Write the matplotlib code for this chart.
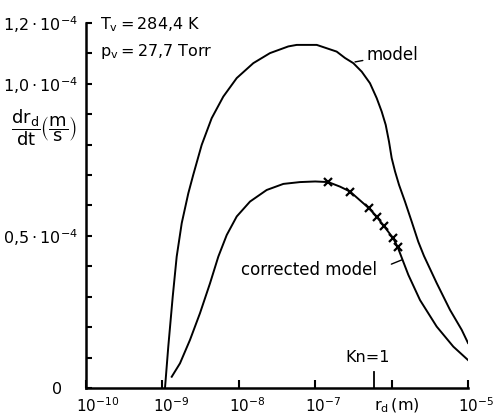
import matplotlib
matplotlib.use("Agg")
import matplotlib.pyplot as plt

# data (x as log10 of r_d in m, y in units of 1e-4 m/s)
model_logr = [-8.966, -8.923, -8.865, -8.813, -8.747, -8.661, -8.596, -8.486, -8.355,
              -8.203, -8.027, -7.810, -7.592, -7.352, -7.242, -6.980, -6.719, -6.610,
              -6.501, -6.391, -6.283, -6.195, -6.130, -6.077, -6.034, -5.999, -5.955,
              -5.903, -5.825, -5.737, -5.651, -5.576, -5.410, -5.236, -5.082, -5.0]
model_rate = [0.0, 0.136, 0.300, 0.432, 0.542, 0.640, 0.701, 0.799, 0.887,
              0.958, 1.019, 1.068, 1.101, 1.123, 1.128, 1.128, 1.106, 1.085,
              1.068, 1.040, 1.002, 0.953, 0.909, 0.865, 0.810, 0.756, 0.712,
              0.668, 0.613, 0.547, 0.481, 0.434, 0.345, 0.257, 0.191, 0.148]

corr_logr = [-8.878, -8.770, -8.639, -8.508, -8.377, -8.268, -8.158, -8.027, -7.853,
             -7.635, -7.417, -7.199, -7.0, -6.829, -6.675, -6.545, -6.296, -6.195,
             -6.096, -5.978, -5.920, -5.847, -5.781, -5.628, -5.410, -5.192, -5.0]
corr_rate = [0.037, 0.081, 0.158, 0.246, 0.344, 0.432, 0.503, 0.564, 0.613,
             0.651, 0.671, 0.677, 0.679, 0.677, 0.662, 0.646, 0.591, 0.563,
             0.531, 0.492, 0.463, 0.415, 0.372, 0.289, 0.202, 0.136, 0.092]

# measured points (crosses)
meas_r = [1.47e-7, 2.85e-7, 5.06e-7, 6.38e-7, 8.0e-7, 1.05e-6, 1.20e-6]
meas_rate = [0.678, 0.646, 0.591, 0.563, 0.531, 0.492, 0.463]

kn_radius = 5.9e-7

x_ticks = [1e-10, 1e-9, 1e-8, 1e-7, 1e-6, 1e-5]
x_labels = [r"$10^{-10}$", r"$10^{-9}$", r"$10^{-8}$", r"$10^{-7}$",
            r"$\mathrm{r_d\,(m)}$", r"$10^{-5}$"]
y_major = [0.0, 0.5e-4, 1.0e-4, 1.2e-4]
y_labels = ["0   ", r"$0{,}5\cdot10^{-4}$", r"$1{,}0\cdot10^{-4}$", r"$1{,}2\cdot10^{-4}$"]
y_minor = [i * 1e-5 for i in range(13)]

plt.rcParams["font.family"] = ["DejaVu Sans"]
plt.rcParams["mathtext.fontset"] = "dejavusans"

fig = plt.figure(figsize=(4.93, 4.19), dpi=100)
ax = fig.add_axes([86 / 493, 1 - 388 / 419, 382 / 493, 365 / 419])

mr = [10 ** v for v in model_logr]
my = [v * 1e-4 for v in model_rate]
cr = [10 ** v for v in corr_logr]
cy = [v * 1e-4 for v in corr_rate]
ax.plot(mr, my, color="black", lw=1.4, solid_joinstyle="round")
ax.plot(cr, cy, color="black", lw=1.4, solid_joinstyle="round")
ax.plot(meas_r, [v * 1e-4 for v in meas_rate], "x", color="black", ms=6, mew=1.6)

ax.set_xscale("log")
ax.set_xlim(1e-10, 1e-5)
ax.set_ylim(0, 1.2e-4)

for s in ["top", "right"]:
    ax.spines[s].set_visible(False)
for s in ["left", "bottom"]:
    ax.spines[s].set_linewidth(1.8)

ax.set_xticks(x_ticks)
ax.set_xticklabels([])
ax.xaxis.set_minor_locator(matplotlib.ticker.NullLocator())
ax.set_yticks(y_major)
ax.set_yticklabels(y_labels, fontsize=11.5)
ax.set_yticks(y_minor, minor=True)
ax.tick_params(axis="x", direction="in", length=6, width=1.5)
ax.tick_params(axis="y", which="both", direction="in", length=4, width=1.5, pad=6)

# x tick labels: the "10" sits centred under its tick, exponent hangs to the right
for xt, lab in zip(x_ticks, x_labels):
    if lab.startswith(r"$10"):
        ax.annotate(lab, xy=(xt, 0), xycoords=ax.get_xaxis_transform(),
                    xytext=(-7, -13), textcoords="offset points",
                    ha="left", va="center", fontsize=11)
    else:
        ax.annotate(lab, xy=(xt, 0), xycoords=ax.get_xaxis_transform(),
                    xytext=(4, -13), textcoords="offset points",
                    ha="center", va="center", fontsize=11.5)

# Kn = 1 marker on the radius axis
ax.plot([kn_radius, kn_radius], [0, 0.053e-4], color="black", lw=1.3, clip_on=False)
ax.annotate("Kn=1", xy=(kn_radius, 0.099e-4), xytext=(-5, 0), textcoords="offset points",
            ha="center", va="center", fontsize=11.5)

# labels and annotations
ax.text(1.52e-10, 1.195e-4, r"$\mathrm{T_v = 284{,}4\ K}$", fontsize=11.5, va="center")
ax.text(1.52e-10, 1.105e-4, r"$\mathrm{p_v = 27{,}7\ Torr}$", fontsize=11.5, va="center")
ax.annotate("model", xy=(3.32e-7, 1.072e-4), xytext=(4.76e-7, 1.095e-4),
            fontsize=12, va="center",
            arrowprops=dict(arrowstyle="-", color="black", lw=1.0, shrinkA=1, shrinkB=0))
ax.annotate("corrected model", xy=(1.355e-6, 0.421e-4), xytext=(6.44e-7, 0.388e-4),
            fontsize=12, va="center", ha="right",
            arrowprops=dict(arrowstyle="-", color="black", lw=1.0, relpos=(1, 0.5),
                            shrinkA=9, shrinkB=0))

fig.text(44 / 493, 1 - 128 / 419,
         r"$\dfrac{\mathrm{dr_d}}{\mathrm{dt}}\left(\dfrac{\mathrm{m}}{\mathrm{s}}\right)$",
         fontsize=13, ha="center", va="center")

fig.savefig("out.png", dpi=100)
